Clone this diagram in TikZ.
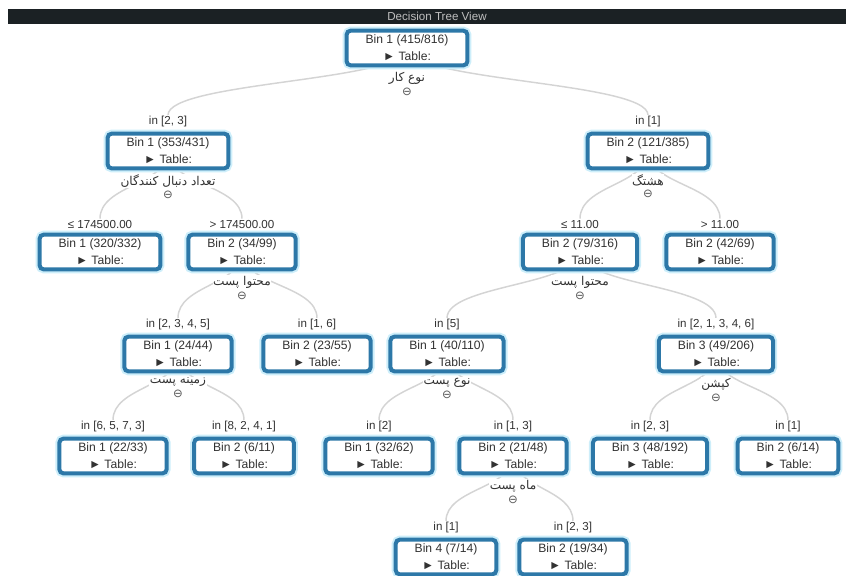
\documentclass[tikz,border=0pt]{standalone}
\usepackage{fontspec}
\setmainfont{Liberation Sans}
\newfontfamily\farsi[Script=Arabic]{DejaVu Sans}
\newfontfamily\symb{DejaVu Sans}
\TeXXeTstate=1
\usetikzlibrary{calc, backgrounds}
\definecolor{boxblue}{RGB}{45,120,168}
\definecolor{glow}{RGB}{205,238,250}
\definecolor{linkgray}{RGB}{212,212,212}
\definecolor{txtgray}{RGB}{50,50,50}
\definecolor{barbg}{RGB}{27,33,36}

% one box of the tree, its condition above and its split below
\newcommand{\binnode}[3]{\node[binbox] (#1) at (#2) {#3\\► Table:};}
\newcommand{\cond}[2]{\node[edgelab, above=3pt] (c-#1) at (#1.north) {#2};}
\newcommand{\splitlab}[2]{%
  \node[splittxt, below=3.5pt] (s-#1) at (#1.south) {\farsi #2};
  \node[minus, below=2pt] (m-#1) at (s-#1.south) {⊖};}
\newcommand{\treelink}[2]{%
  \draw[link] let \p1=(#1.center), \p2=(c-#2.north) in
    (\p1) .. controls (\x1,{0.5*(\y1+\y2)}) and (\x2,{0.5*(\y1+\y2)}) .. (\p2);}

\begin{document}
\begin{tikzpicture}[x=0.3333mm, y=-0.3333mm,
  binbox/.style={draw=boxblue, line width=3.8pt, fill=white, rounded corners=4pt,
    preaction={draw=glow, line width=7.5pt}, align=center, text=txtgray,
    font=\fontsize{11.5}{16}\selectfont, inner xsep=18pt, minimum height=33pt},
  edgelab/.style={text=txtgray, font=\fontsize{11}{12}\selectfont, inner sep=1pt, fill=white},
  splittxt/.style={text=txtgray, font=\fontsize{11.5}{12}\selectfont, inner sep=0.5pt, fill=white},
  minus/.style={text=black!65, font=\symb\fontsize{11}{11}\selectfont, inner sep=0.5pt, fill=white},
  link/.style={draw=linkgray, line width=1.4pt}]
\useasboundingbox (0,0) rectangle (846,575);
\clip (0,0) rectangle (846,575);

% title bar
\fill[barbg] (8,9) rectangle (846,24);
\node[text=black!25, font=\fontsize{11}{12}\selectfont] (title) at (437,16.5) {Decision Tree View};

% boxes
\binnode{root}{407,48}{Bin 1 (415/816)}
\binnode{a}{168,151}{Bin 1 (353/431)}
\binnode{b}{648,151}{Bin 2 (121/385)}
\binnode{aa}{100,252}{Bin 1 (320/332)}
\binnode{ab}{242,252}{Bin 2 (34/99)}
\binnode{ba}{580,252}{Bin 2 (79/316)}
\binnode{bb}{720,252}{Bin 2 (42/69)}
\binnode{aba}{178,354}{Bin 1 (24/44)}
\binnode{abb}{317,354}{Bin 2 (23/55)}
\binnode{baa}{447,354}{Bin 1 (40/110)}
\binnode{bab}{716,354}{Bin 3 (49/206)}
\binnode{abaa}{113,456}{Bin 1 (22/33)}
\binnode{abab}{244,456}{Bin 2 (6/11)}
\binnode{baaa}{379,456}{Bin 1 (32/62)}
\binnode{baab}{513,456}{Bin 2 (21/48)}
\binnode{baba}{650,456}{Bin 3 (48/192)}
\binnode{babb}{788,456}{Bin 2 (6/14)}
\binnode{baaba}{446,557}{Bin 4 (7/14)}
\binnode{baabb}{573,557}{Bin 2 (19/34)}

% conditions
\cond{a}{in [2, 3]}
\cond{b}{in [1]}
\cond{aa}{≤ 174500.00}
\cond{ab}{> 174500.00}
\cond{ba}{≤ 11.00}
\cond{bb}{> 11.00}
\cond{aba}{in [2, 3, 4, 5]}
\cond{abb}{in [1, 6]}
\cond{baa}{in [5]}
\cond{bab}{in [2, 1, 3, 4, 6]}
\cond{abaa}{in [6, 5, 7, 3]}
\cond{abab}{in [8, 2, 4, 1]}
\cond{baaa}{in [2]}
\cond{baab}{in [1, 3]}
\cond{baba}{in [2, 3]}
\cond{babb}{in [1]}
\cond{baaba}{in [1]}
\cond{baabb}{in [2, 3]}

% splits
\splitlab{root}{\beginR نوع کار\endR}
\splitlab{a}{\beginR تعداد دنبال کنندگان\endR}
\splitlab{b}{\beginR هشتگ\endR}
\splitlab{ab}{\beginR محتوا پست\endR}
\splitlab{ba}{\beginR محتوا پست\endR}
\splitlab{aba}{\beginR زمینه پست\endR}
\splitlab{baa}{\beginR نوع پست\endR}
\splitlab{bab}{\beginR کپشن\endR}
\splitlab{baab}{\beginR ماه پست\endR}

% links
\begin{pgfonlayer}{background}
\treelink{root}{a}
\treelink{root}{b}
\treelink{a}{aa}
\treelink{a}{ab}
\treelink{b}{ba}
\treelink{b}{bb}
\treelink{ab}{aba}
\treelink{ab}{abb}
\treelink{ba}{baa}
\treelink{ba}{bab}
\treelink{aba}{abaa}
\treelink{aba}{abab}
\treelink{baa}{baaa}
\treelink{baa}{baab}
\treelink{bab}{baba}
\treelink{bab}{babb}
\treelink{baab}{baaba}
\treelink{baab}{baabb}
\end{pgfonlayer}
\end{tikzpicture}
\end{document}
